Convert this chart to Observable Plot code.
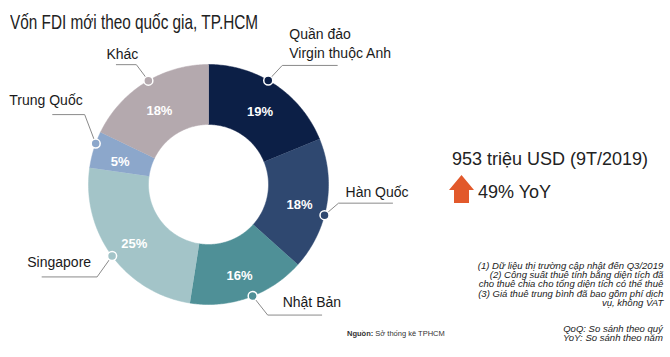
<!DOCTYPE html>
<html><head><meta charset="utf-8">
<script src="https://cdn.jsdelivr.net/npm/d3@7"></script>
<script src="https://cdn.jsdelivr.net/npm/@observablehq/plot@0.6"></script>
<style>
body{margin:0;background:#fff;font-family:"Liberation Sans",Arial,sans-serif;}
#wrap{position:relative;width:670px;height:357px;overflow:hidden;background:#fff;}
#chart{position:absolute;left:0;top:0;}
.t{position:absolute;white-space:nowrap;color:#1a1a1a;}
#title{left:10px;top:11px;font-size:21px;line-height:21px;transform:scaleX(0.73);transform-origin:0 0;color:#222;}
#big1{left:452px;top:150px;font-size:18px;line-height:18px;color:#222;}
#big2{left:478px;top:183px;font-size:18px;line-height:18px;color:#222;}
#arrow{position:absolute;left:449px;top:175px;}
.note{right:7px;font-size:8.3px;line-height:9.4px;font-style:italic;text-align:right;color:#222;transform:scaleX(1.15);transform-origin:100% 50%;}
#notes{top:261.5px;}
#notes2{top:325px;}
#src{left:347px;top:329.5px;font-size:7.5px;line-height:7.5px;color:#333;}
</style></head><body>
<div id="wrap">
 <div id="chart"></div>
 <div class="t" id="title">Vốn FDI mới theo quốc gia, TP.HCM</div>
 <div class="t" id="big1">953 triệu USD (9T/2019)</div>
 <svg id="arrow" width="25" height="28" viewBox="0 0 25 28"><polygon points="12.5,0 25,15 20,15 20,28 5,28 5,15 0,15" fill="#e2592b"/></svg>
 <div class="t" id="big2">49% YoY</div>
 <div class="t note" id="notes">(1) Dữ liệu thị trường cập nhật đến Q3/2019<br>(2) Công suất thuê tính bằng diện tích đã<br>cho thuê chia cho tổng diện tích có thể thuê<br>(3) Giá thuê trung bình đã bao gồm phí dịch<br>vụ, không VAT</div>
 <div class="t note" id="notes2">QoQ: So sánh theo quý<br>YoY: So sánh theo năm</div>
 <div class="t" id="src"><b>Nguồn:</b> Sở thống kê TPHCM</div>
</div>
<script>
// ---- data ----
const countries = ["Quần đảo Virgin thuộc Anh", "Hàn Quốc", "Nhật Bản", "Singapore", "Trung Quốc", "Khác"];
const labelLines = [["Quần đảo", "Virgin thuộc Anh"], ["Hàn Quốc"], ["Nhật Bản"], ["Singapore"], ["Trung Quốc"], ["Khác"]];
const shares = [19, 18, 16, 25, 5, 18];
const colors = ["#0c1f46", "#2f4870", "#4f9097", "#a3c4c8", "#8ca7cb", "#b4a9ae"];

// ---- layout (pixels) ----
const W = 670, H = 357, cx = 208, cy = 184, R = 120, innerRatio = 0.5;
const layout = [
  {nudge: -4, elbow: [14, -15], seg: 55, anchor: "start", tx: 7, ty: -7},
  {nudge: 5, elbow: [14, -12], seg: 54, anchor: "start", tx: 7, ty: -6},
  {nudge: -2, elbow: [15, 19], seg: 54, anchor: "start", tx: 15, ty: -8},
  {nudge: 0, elbow: [-15, 21], seg: -55, anchor: "end", tx: -6, ty: -10},
  {nudge: 3, elbow: [-11, -29], seg: -32, anchor: "end", tx: -2, ty: -10},
  {nudge: 2, elbow: [-12, -16], seg: -20, anchor: "end", tx: 2, ty: -6}
];
const ux = px => (px - cx) / R;
const uy = py => (cy - py) / R;

const arcs = d3.pie().sort(null).value(d => d)(shares);

// ring polygons
const ring = [];
arcs.forEach((a, i) => {
  const n = 80;
  for (let k = 0; k <= n; k++) {
    const t = a.startAngle + (a.endAngle - a.startAngle) * k / n;
    ring.push({name: countries[i], x: Math.sin(t), y: Math.cos(t)});
  }
  for (let k = n; k >= 0; k--) {
    const t = a.startAngle + (a.endAngle - a.startAngle) * k / n;
    ring.push({name: countries[i], x: innerRatio * Math.sin(t), y: innerRatio * Math.cos(t)});
  }
});

// percent labels
const pct = arcs.map((a, i) => {
  const m = (a.startAngle + a.endAngle) / 2;
  return {name: countries[i], text: shares[i] + "%", x: 0.77 * Math.sin(m), y: 0.77 * Math.cos(m) - 0.32 * 13 / R};
});

// dots, leaders, labels
const dots = [], leaders = [], labels = [];
arcs.forEach((a, i) => {
  const L = layout[i];
  const m = (a.startAngle + a.endAngle) / 2 + L.nudge * Math.PI / 180;
  const dpx = cx + R * Math.sin(m), dpy = cy - R * Math.cos(m);
  const epx = dpx + L.elbow[0], epy = dpy + L.elbow[1];
  dots.push({name: countries[i], x: ux(dpx), y: uy(dpy)});
  leaders.push({name: countries[i], x: ux(dpx), y: uy(dpy)});
  leaders.push({name: countries[i], x: ux(epx), y: uy(epy)});
  leaders.push({name: countries[i], x: ux(epx + L.seg), y: uy(epy)});
  const lines = labelLines[i];
  lines.forEach((s, j) => {
    const base = epy + L.ty - (lines.length - 1 - j) * 19;
    labels.push({text: s, anchor: L.anchor, x: ux(epx + L.tx), y: uy(base - 0.32 * 14)});
  });
});

const chart = Plot.plot({
  width: W, height: H, margin: 0,
  x: {domain: [ux(0), ux(W)], axis: null},
  y: {domain: [uy(H), uy(0)], axis: null},
  color: {domain: countries, range: colors},
  style: {background: "transparent", overflow: "visible"},
  marks: [
    Plot.line(ring, {x: "x", y: "y", z: "name", fill: "name", stroke: "name", strokeWidth: 0.5, curve: "linear"}),
    Plot.text(pct, {x: "x", y: "y", text: "text", fill: "white", fontSize: 13, fontWeight: "bold", fontFamily: "Liberation Sans, Arial, sans-serif", lineAnchor: "middle"}),
    Plot.line(leaders, {x: "x", y: "y", z: "name", stroke: "#8a8a8a", strokeWidth: 1}),
    Plot.dot(dots, {x: "x", y: "y", r: 4.5, fill: "name", stroke: "white", strokeWidth: 1.5}),
    Plot.text(labels.filter(d => d.anchor === "start"), {x: "x", y: "y", text: "text", textAnchor: "start", fill: "#1a1a1a", fontSize: 14, fontFamily: "Liberation Sans, Arial, sans-serif", lineAnchor: "middle"}),
    Plot.text(labels.filter(d => d.anchor === "end"), {x: "x", y: "y", text: "text", textAnchor: "end", fill: "#1a1a1a", fontSize: 14, fontFamily: "Liberation Sans, Arial, sans-serif", lineAnchor: "middle"})
  ]
});
document.getElementById("chart").appendChild(chart);
</script>
</body></html>
